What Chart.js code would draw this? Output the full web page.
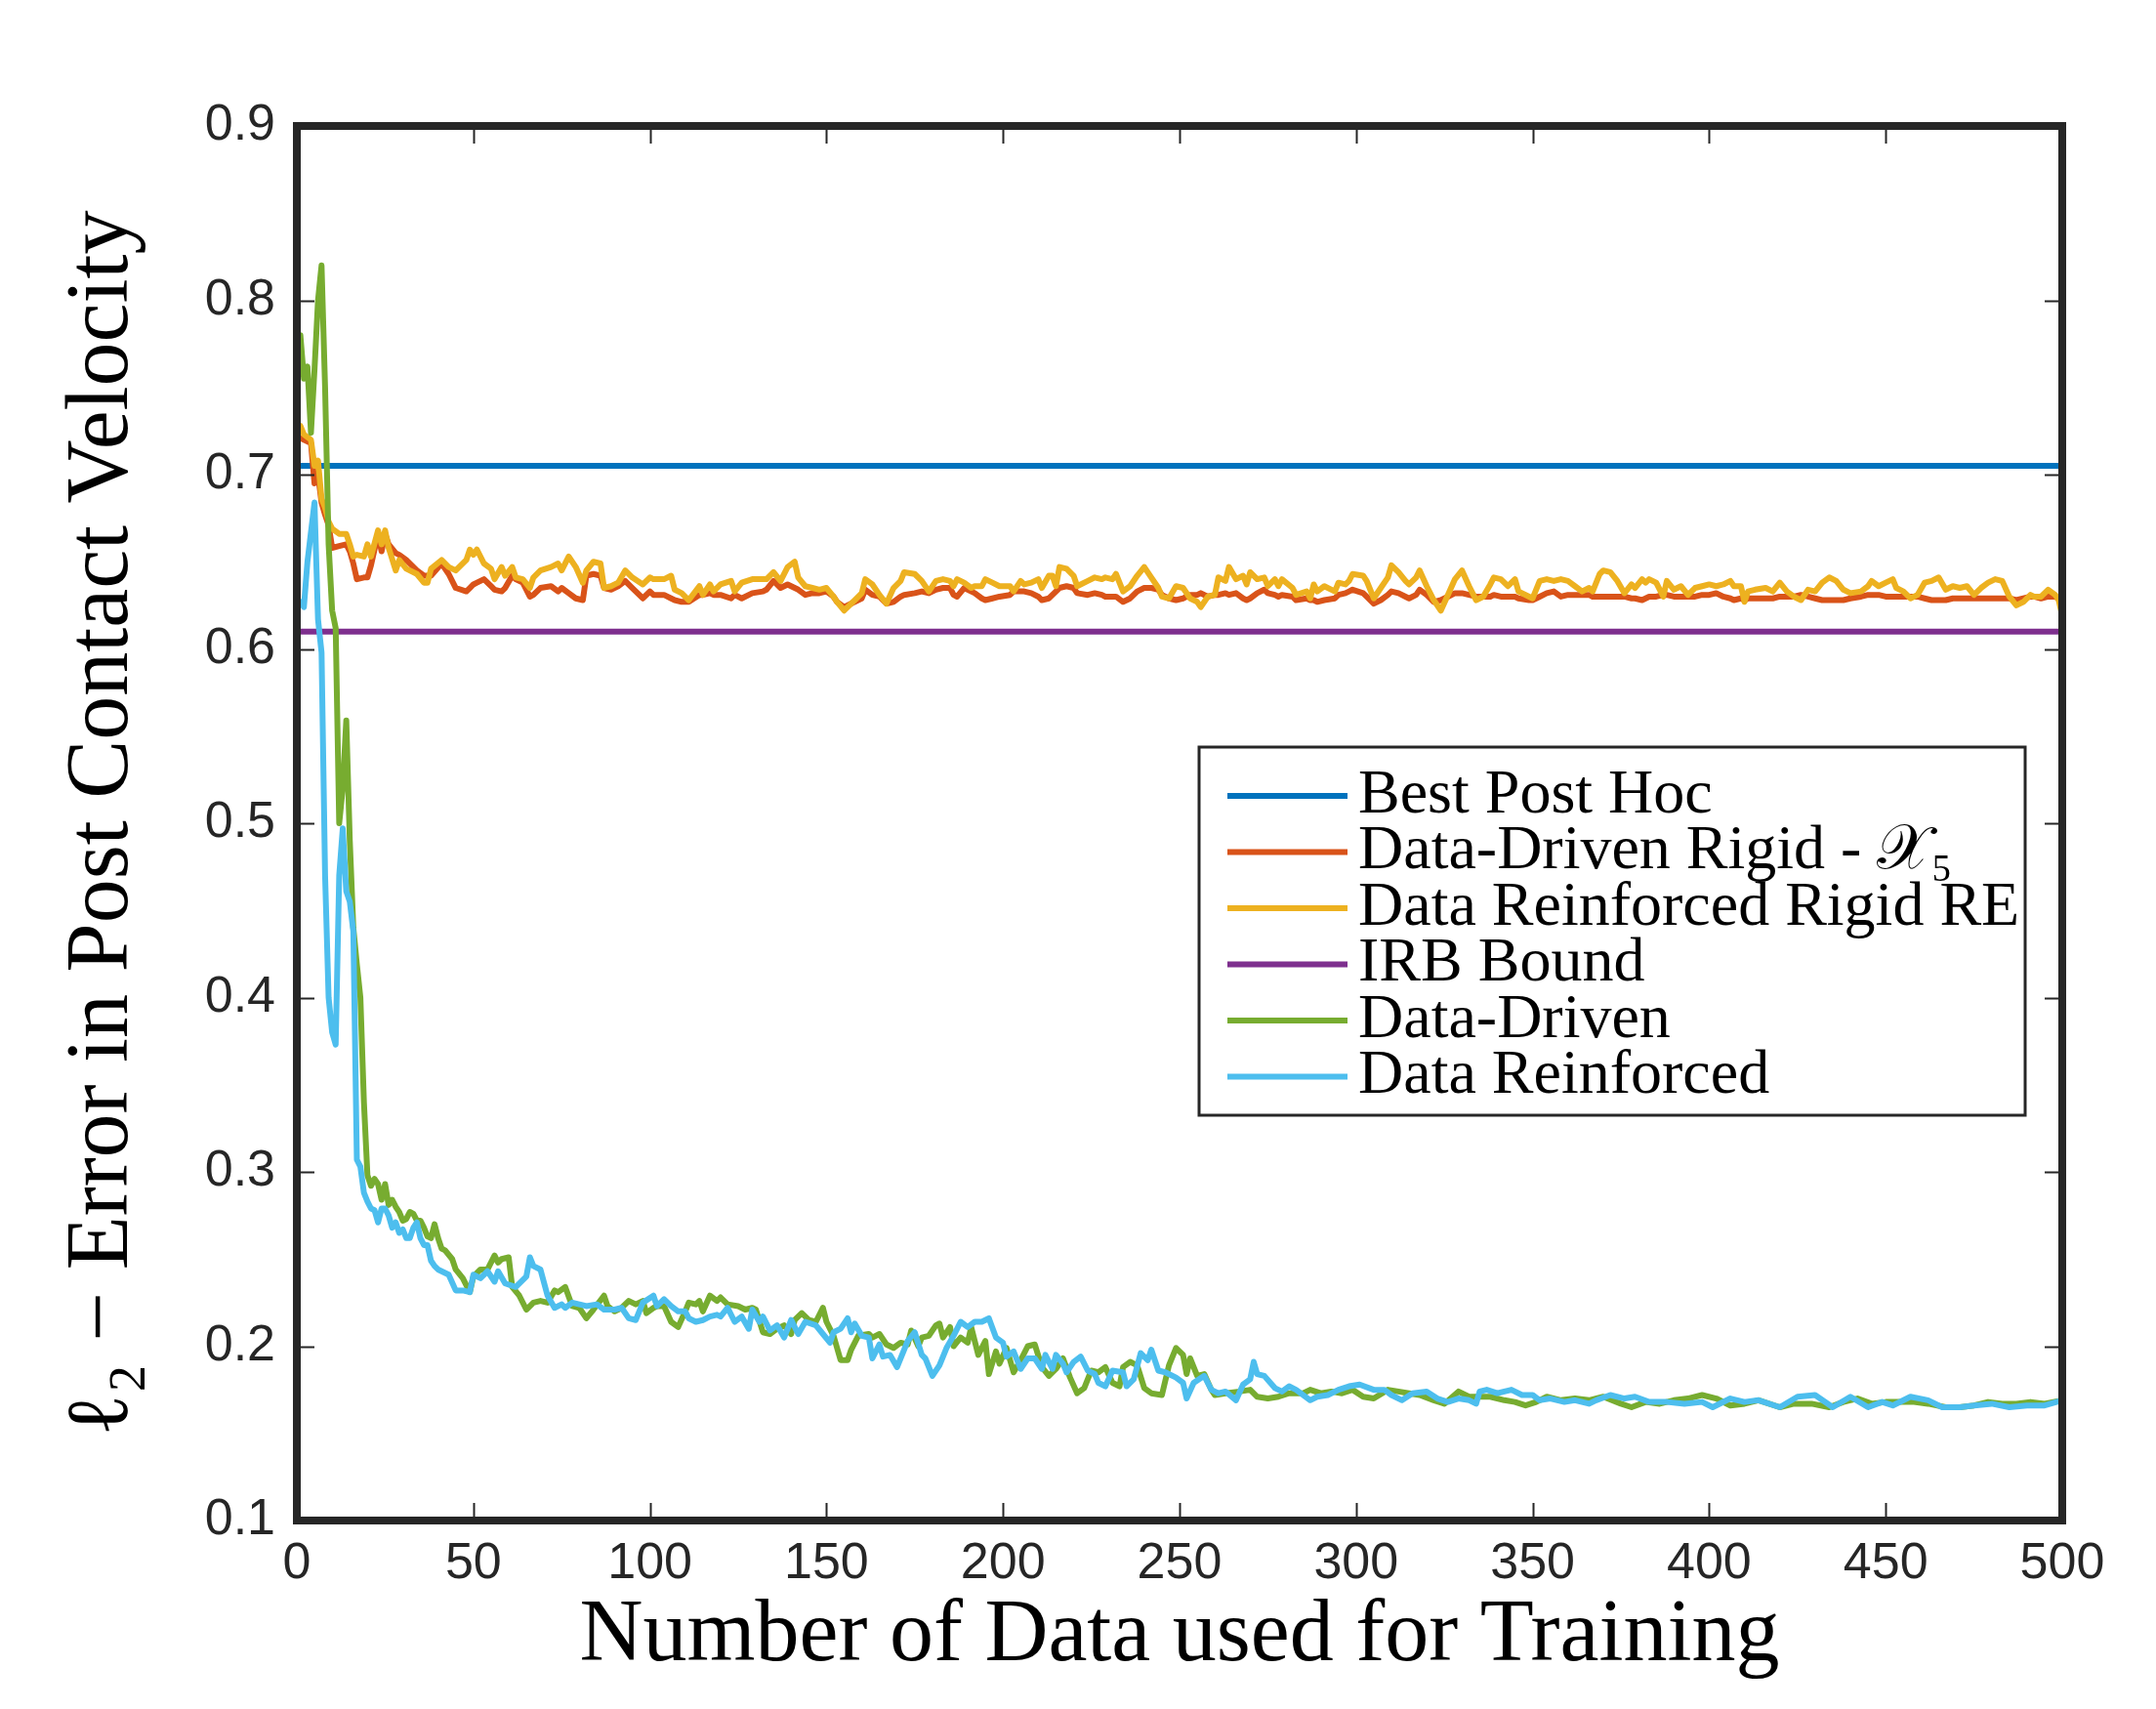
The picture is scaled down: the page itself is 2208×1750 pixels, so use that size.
<!DOCTYPE html>
<html><head><meta charset="utf-8">
<script src="https://cdn.jsdelivr.net/npm/chart.js@4.4.1/dist/chart.umd.min.js"></script>
<style>html,body{margin:0;padding:0;background:#fff;}canvas{display:block;}</style>
</head><body>
<canvas id="c" width="2208" height="1750"></canvas>
<script>
// ---------- data ----------
const seriesLabels = ['Best Post Hoc', 'Data-Driven Rigid - 𝒳₅', 'Data Reinforced Rigid RE', 'IRB Bound', 'Data-Driven', 'Data Reinforced'];
const seriesColors = ['#0072BD', '#D95319', '#EDB120', '#7E2F8E', '#77AC30', '#4DBEEE'];
const xTitle = 'Number of Data used for Training';
const yTitle = 'ℓ₂ − Error in Post Contact Velocity';

const flatX = [1, 500];
const bestPostHocY = [0.705, 0.705];
const irbBoundY = [0.610, 0.610];

const bandX = [1,2,4,5,6,7,8,9,10,12,14,15,16,17,19,20,21,23,24,25,26,28,29,31,34,36,37,38,41,43,45,48,49,50,51,53,55,56,58,59,61,62,64,66,67,69,72,74,75,77,79,81,82,84,86,87,89,91,93,95,98,100,101,104,106,107,109,111,114,115,117,118,120,123,124,126,129,132,133,135,137,139,141,142,144,146,148,150,152,153,155,158,160,161,163,165,167,169,171,172,175,177,179,181,183,185,186,187,189,191,192,194,195,197,199,202,203,205,206,208,210,211,213,214,215,216,218,220,221,224,226,228,229,231,232,234,236,238,240,242,244,245,247,249,251,253,255,256,258,260,261,263,264,266,268,269,270,272,274,275,277,278,279,282,283,286,287,288,289,291,294,295,297,298,299,302,303,305,307,309,310,312,314,315,317,318,320,322,324,326,328,330,332,334,336,338,339,341,343,345,346,349,350,352,354,356,358,360,362,364,366,367,369,370,372,374,376,378,379,381,382,383,385,387,388,390,392,394,396,398,400,402,404,406,407,409,410,411,413,416,418,420,422,424,426,428,430,432,434,436,438,440,443,445,446,448,450,452,453,455,457,459,461,463,465,467,469,471,473,475,477,479,481,483,485,487,489,491,492,494,496,498,499,500];
const rigidY = [.721,.720,.718,.695,.700,.684,.677,.671,.658,.659,.660,.656,.649,.640,.641,.641,.648,.666,.656,.666,.660,.655,.654,.651,.645,.642,.642,.642,.649,.643,.635,.633,.635,.637,.638,.640,.636,.634,.633,.635,.642,.640,.638,.630,.631,.635,.636,.633,.635,.632,.629,.628,.642,.643,.642,.635,.634,.636,.639,.635,.629,.633,.631,.631,.629,.628,.627,.627,.631,.631,.632,.631,.631,.629,.631,.629,.632,.633,.634,.639,.635,.637,.635,.634,.631,.632,.632,.633,.630,.627,.624,.627,.629,.634,.631,.630,.626,.627,.630,.631,.632,.633,.632,.634,.635,.635,.631,.630,.635,.633,.632,.629,.628,.629,.630,.631,.633,.633,.633,.632,.630,.628,.629,.631,.633,.635,.636,.635,.632,.631,.632,.631,.630,.630,.630,.627,.629,.633,.635,.635,.634,.631,.629,.628,.629,.631,.631,.632,.630,.631,.631,.632,.631,.632,.629,.628,.629,.632,.634,.632,.631,.630,.631,.630,.628,.629,.628,.628,.627,.628,.629,.631,.632,.633,.634,.632,.630,.626,.628,.631,.633,.632,.630,.629,.631,.634,.631,.627,.628,.630,.632,.632,.631,.630,.630,.630,.631,.630,.630,.630,.629,.628,.628,.630,.632,.633,.630,.631,.631,.631,.631,.630,.630,.630,.630,.630,.630,.629,.629,.628,.629,.630,.630,.631,.631,.630,.630,.630,.630,.631,.631,.632,.630,.629,.628,.629,.628,.629,.629,.629,.629,.630,.630,.630,.631,.630,.629,.628,.628,.628,.628,.629,.630,.631,.631,.631,.630,.630,.630,.630,.630,.630,.629,.628,.628,.628,.629,.629,.629,.629,.629,.629,.629,.629,.629,.628,.629,.630,.630,.629,.630,.630,.629,.628];
const reinforcedRigidY = [.728,.723,.720,.705,.708,.686,.681,.673,.669,.666,.666,.660,.653,.654,.653,.660,.653,.668,.660,.668,.658,.645,.651,.646,.643,.638,.638,.646,.651,.647,.645,.651,.657,.654,.657,.649,.646,.640,.647,.642,.647,.641,.640,.635,.641,.645,.647,.649,.645,.653,.647,.638,.645,.650,.649,.635,.636,.638,.645,.641,.637,.641,.640,.640,.642,.634,.632,.628,.636,.631,.637,.633,.637,.639,.633,.638,.640,.640,.640,.644,.639,.647,.650,.641,.636,.635,.634,.635,.630,.627,.622,.628,.632,.640,.637,.631,.626,.635,.639,.644,.643,.639,.633,.639,.640,.639,.636,.640,.638,.635,.636,.636,.640,.638,.636,.636,.633,.639,.637,.638,.640,.635,.642,.642,.636,.647,.646,.642,.636,.639,.641,.640,.641,.640,.643,.633,.636,.642,.647,.641,.635,.630,.629,.636,.635,.629,.627,.624,.630,.631,.641,.639,.647,.640,.642,.637,.644,.640,.641,.636,.640,.636,.640,.635,.631,.633,.629,.637,.633,.636,.633,.638,.637,.639,.643,.642,.639,.629,.635,.641,.648,.644,.639,.637,.641,.645,.636,.628,.622,.631,.640,.645,.636,.628,.630,.637,.641,.640,.636,.640,.633,.630,.629,.639,.640,.639,.640,.639,.636,.633,.635,.633,.643,.645,.644,.639,.632,.637,.635,.640,.638,.640,.638,.630,.639,.634,.636,.631,.635,.636,.637,.636,.637,.639,.636,.636,.627,.633,.634,.635,.633,.638,.633,.630,.628,.634,.633,.638,.641,.639,.634,.632,.633,.636,.639,.636,.638,.640,.635,.633,.629,.631,.638,.639,.641,.634,.636,.635,.636,.631,.635,.638,.640,.639,.630,.625,.627,.631,.630,.630,.634,.631,.628,.619];

const drivenX = [1,2,3,4,5,6,7,8,9,10,11,12,13,14,15,16,17,18,19,20,21,22,23,24,25,26,27,28,29,30,31,32,33,34,35,36,37,38,39,40,41,42,44,45,47,49,50,52,54,56,57,58,60,61,63,65,67,69,71,73,74,76,78,80,82,84,87,88,90,92,94,96,98,99,101,102,104,106,108,110,111,113,114,115,117,119,120,122,125,127,129,130,132,134,136,138,140,141,143,145,147,149,150,152,154,156,157,159,162,163,165,167,169,171,173,174,176,177,179,181,182,183,185,186,188,190,191,193,195,196,198,199,201,203,205,207,209,211,213,215,217,219,221,223,225,227,229,231,233,234,236,238,240,242,245,247,249,251,252,253,255,257,259,260,263,267,270,272,275,278,281,285,287,290,293,296,299,302,305,309,312,315,318,322,325,329,332,335,338,342,345,348,351,354,358,362,366,370,375,378,382,386,390,394,398,402,406,410,414,420,424,429,434,438,442,446,450,454,458,462,467,471,475,479,483,487,491,495,500];
const drivenY = [.780,.755,.762,.724,.760,.800,.820,.750,.660,.622,.612,.500,.520,.559,.490,.440,.419,.400,.340,.298,.292,.296,.293,.284,.293,.281,.284,.280,.277,.272,.273,.277,.276,.272,.272,.268,.263,.262,.270,.262,.256,.255,.250,.244,.239,.231,.240,.244,.244,.252,.248,.250,.251,.234,.229,.221,.225,.226,.225,.232,.231,.234,.223,.222,.216,.221,.229,.223,.220,.222,.226,.224,.226,.219,.222,.223,.223,.214,.211,.220,.225,.224,.226,.220,.229,.226,.228,.224,.223,.221,.222,.221,.208,.207,.210,.212,.207,.215,.219,.215,.214,.222,.214,.206,.192,.192,.198,.206,.207,.205,.207,.201,.199,.202,.201,.209,.200,.205,.206,.212,.213,.205,.211,.200,.205,.202,.211,.195,.203,.184,.197,.190,.199,.185,.192,.200,.201,.188,.183,.187,.193,.182,.173,.176,.186,.185,.188,.179,.177,.188,.191,.189,.176,.173,.172,.189,.199,.195,.184,.193,.183,.184,.175,.172,.173,.174,.175,.171,.170,.171,.173,.173,.175,.173,.174,.173,.175,.171,.170,.175,.174,.173,.172,.169,.167,.174,.171,.171,.171,.169,.168,.166,.168,.171,.169,.170,.169,.171,.167,.165,.168,.167,.169,.170,.172,.170,.166,.167,.169,.165,.167,.167,.165,.168,.170,.167,.168,.168,.168,.167,.165,.165,.166,.168,.167,.167,.168,.167,.169];

const reinforcedX = [1,2,3,5,6,7,8,9,10,11,12,13,14,15,16,17,18,19,20,21,22,23,24,25,26,27,28,29,30,31,32,33,34,35,36,37,38,39,40,43,45,47,49,50,52,54,56,57,59,62,65,66,67,69,71,73,75,76,78,80,82,85,87,90,92,94,96,98,101,102,104,106,108,110,111,113,115,117,119,120,122,124,126,128,129,131,132,134,136,138,140,142,144,147,149,151,152,154,156,157,158,160,162,163,165,166,168,170,172,173,175,177,178,180,182,184,186,188,190,192,194,196,198,200,201,203,205,207,209,211,212,214,215,217,218,220,222,224,226,227,229,231,234,235,237,239,241,242,244,246,249,251,252,254,257,259,261,263,266,268,270,271,272,274,277,279,281,283,287,289,292,295,298,301,305,308,310,313,316,320,323,326,329,332,334,335,337,340,342,344,347,350,352,355,359,362,366,368,372,376,379,383,388,393,398,401,406,410,414,420,425,430,435,440,445,449,452,457,462,466,471,475,480,485,490,495,500];
const reinforcedY = [.627,.624,.650,.684,.617,.598,.470,.400,.380,.373,.470,.497,.461,.455,.438,.307,.303,.288,.283,.279,.278,.271,.279,.279,.275,.268,.271,.265,.267,.262,.262,.268,.271,.262,.258,.258,.249,.246,.244,.241,.232,.232,.231,.241,.239,.243,.237,.243,.236,.234,.240,.251,.246,.244,.229,.222,.224,.222,.225,.224,.223,.224,.221,.221,.222,.216,.215,.225,.229,.223,.227,.223,.220,.220,.216,.214,.215,.217,.218,.217,.222,.214,.217,.210,.221,.214,.217,.209,.212,.205,.215,.207,.214,.212,.207,.202,.208,.210,.216,.208,.213,.206,.205,.193,.201,.194,.195,.188,.198,.203,.208,.195,.193,.183,.189,.199,.206,.214,.211,.214,.214,.216,.205,.202,.194,.197,.187,.193,.193,.187,.195,.187,.195,.190,.185,.191,.194,.186,.184,.179,.177,.186,.185,.177,.181,.196,.192,.198,.186,.185,.182,.179,.170,.179,.183,.175,.173,.174,.169,.178,.181,.191,.184,.183,.176,.174,.177,.175,.169,.171,.172,.175,.177,.178,.175,.175,.172,.169,.173,.174,.170,.168,.170,.169,.167,.174,.175,.173,.174,.175,.172,.172,.169,.170,.168,.169,.167,.169,.172,.170,.171,.168,.168,.167,.168,.165,.170,.168,.169,.165,.171,.172,.165,.171,.165,.168,.166,.171,.169,.165,.165,.166,.167,.165,.166,.166,.169];

const xTickValues = [0,50,100,150,200,250,300,350,400,450,500];
const yTickValues = [0.1,0.2,0.3,0.4,0.5,0.6,0.7,0.8,0.9];

// ---------- build ----------
const pts = (xs, ys) => xs.map((x, i) => ({x: x, y: ys[i]}));
const seriesData = [
  pts(flatX, bestPostHocY), pts(bandX, rigidY), pts(bandX, reinforcedRigidY),
  pts(flatX, irbBoundY), pts(drivenX, drivenY), pts(reinforcedX, reinforcedY)
];
const datasets = seriesLabels.map((lab, i) => ({
  label: lab, data: seriesData[i], borderColor: seriesColors[i], backgroundColor: seriesColors[i],
  borderWidth: 6, pointRadius: 0, tension: 0, fill: false, order: seriesLabels.length - i,
  borderJoinStyle: 'round', borderCapStyle: 'round'
}));

const AX = '#262626';
const SANS = '"Liberation Sans", Arial, Helvetica, sans-serif';
const SERIF = '"Liberation Serif", "DejaVu Serif", serif';

const framePlugin = {
  id: 'frame',
  afterDatasetsDraw(chart) {
    const {ctx, chartArea: a, scales} = chart;
    ctx.save();
    ctx.strokeStyle = AX;
    ctx.lineWidth = 2;
    const L = 18;
    ctx.beginPath();
    scales.x.ticks.forEach(t => {
      const px = Math.round(scales.x.getPixelForValue(t.value)) + 0.5;
      ctx.moveTo(px, a.bottom); ctx.lineTo(px, a.bottom - L);
      ctx.moveTo(px, a.top); ctx.lineTo(px, a.top + L);
    });
    scales.y.ticks.forEach(t => {
      const py = Math.round(scales.y.getPixelForValue(t.value)) + 0.5;
      ctx.moveTo(a.left, py); ctx.lineTo(a.left + L, py);
      ctx.moveTo(a.right, py); ctx.lineTo(a.right - L, py);
    });
    ctx.stroke();
    ctx.lineWidth = 8;
    ctx.strokeRect(a.left, a.top, a.right - a.left, a.bottom - a.top);
    ctx.restore();
  }
};

const legendPlugin = {
  id: 'boxLegend',
  afterDraw(chart) {
    const {ctx, chartArea: a} = chart;
    const bx = a.right - 884, by = a.top + 636, bw = 846, bh = 377;
    ctx.save();
    ctx.fillStyle = '#ffffff';
    ctx.fillRect(bx, by, bw, bh);
    ctx.strokeStyle = AX;
    ctx.lineWidth = 3;
    ctx.strokeRect(bx, by, bw, bh);
    ctx.font = '64px ' + SERIF;
    ctx.textBaseline = 'middle';
    ctx.textAlign = 'left';
    chart.data.datasets.forEach((ds, i) => {
      const y = by + 50 + i * 57.5;
      ctx.strokeStyle = ds.borderColor;
      ctx.lineWidth = 6;
      ctx.beginPath();
      ctx.moveTo(bx + 29, y); ctx.lineTo(bx + 152, y);
      ctx.stroke();
      ctx.fillStyle = '#000000';
      ctx.fillText(ds.label, bx + 163, y);
    });
    ctx.restore();
  }
};

new Chart(document.getElementById('c'), {
  type: 'line',
  data: {datasets: datasets},
  plugins: [framePlugin, legendPlugin],
  options: {
    responsive: false, animation: false, devicePixelRatio: 1,
    layout: {padding: {top: 129, right: 96, bottom: 0, left: 0}},
    plugins: {legend: {display: false}, tooltip: {enabled: false}},
    scales: {
      x: {
        type: 'linear', min: 0, max: 500,
        afterFit(s) { s.height = 193; },
        afterBuildTicks(s) { s.ticks = xTickValues.map(v => ({value: v})); },
        grid: {display: false, drawTicks: false}, border: {display: false},
        ticks: {padding: 13, color: AX, font: {family: SANS, size: 52}, maxRotation: 0, autoSkip: false,
                callback: v => String(v)},
        title: {display: true, text: xTitle, color: '#000', font: {family: SERIF, size: 90}, padding: {top: 0, bottom: 20}}
      },
      y: {
        type: 'linear', min: 0.1, max: 0.9,
        afterFit(s) { s.width = 304; },
        afterBuildTicks(s) { s.ticks = yTickValues.map(v => ({value: v})); },
        grid: {display: false, drawTicks: false}, border: {display: false},
        ticks: {padding: 22, color: AX, font: {family: SANS, size: 52}, autoSkip: false,
                callback: v => Number(v).toFixed(1)},
        title: {display: true, text: yTitle, color: '#000', font: {family: SERIF, size: 90}, padding: {top: 52, bottom: 0}}
      }
    }
  }
});
</script>
</body></html>
